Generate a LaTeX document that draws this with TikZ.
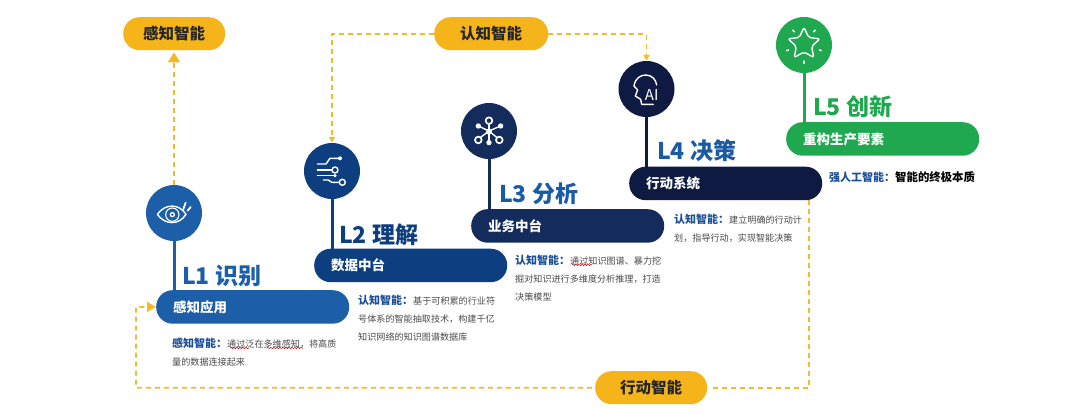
\documentclass[tikz,border=0pt]{standalone}
\usepackage{fontspec}
\setmainfont{Noto Sans CJK SC}
\usetikzlibrary{arrows.meta,decorations.pathmorphing}
\definecolor{cA}{HTML}{1C5EA8}
\definecolor{cB}{HTML}{0D3E80}
\definecolor{cC}{HTML}{142C5C}
\definecolor{cD}{HTML}{0E1A42}
\definecolor{cE}{HTML}{1FA84F}
\definecolor{cY}{HTML}{F4B41A}
\definecolor{cT}{HTML}{1A5BA6}
\definecolor{cH}{HTML}{1C4F96}
\definecolor{cG}{HTML}{4A4A4A}
\tikzset{
  pill/.style={fill=#1,rounded corners=16.5pt,minimum height=33.5pt,minimum width=193pt,text width=159pt,inner xsep=17pt,inner ysep=0pt,align=left,text=white,font=\fontsize{13.5pt}{15pt}\selectfont\bfseries,anchor=north west},
  ypill/.style={fill=cY,rounded corners=16.5pt,minimum height=33pt,inner sep=0pt,text=black!85,font=\fontsize{15.5pt}{18pt}\selectfont\bfseries,anchor=north west},
  disc/.style={circle,fill=#1,minimum size=56pt,inner sep=0pt},
  stem/.style={draw=#1,line width=3pt},
  lvl/.style={text=#1,font=\fontsize{23pt}{26pt}\selectfont\bfseries,anchor=west,inner sep=0pt},
  desc/.style={text=cG,font=\fontsize{9.1pt}{18pt}\selectfont,align=left,anchor=north west,inner sep=0pt},
  dashline/.style={draw=cY!92!white,line width=1.7pt,dash pattern=on 5pt off 4pt},
  ico/.style={draw=white,line width=1.4pt,line cap=round,line join=round},
  squig/.style={draw=red!80!black,line width=0.5pt,decorate,decoration={snake,amplitude=0.6pt,segment length=3pt}}
}
\newcommand{\hl}[1]{{\fontsize{11pt}{18pt}\selectfont\bfseries\color{cH}#1}}
\begin{document}
\begin{tikzpicture}[x=1pt,y=-1pt]
\useasboundingbox (0,0) rectangle (1080,415);
\fill[white] (0,0) rectangle (1080,415);

% pills
\node[pill=cA] (p1) at (156,290) {感知应用};
\node[pill=cB] (p2) at (314,248.5) {数据中台};
\node[pill=cC] (p3) at (471,209) {业务中台};
\node[pill=cD] (p4) at (629,166.5) {行动系统};
\node[pill=cE] (p5) at (786,122) {重构生产要素};

% discs
\node[disc=cA] (c1) at (174,213) {};
\node[disc=cB] (c2) at (332,171) {};
\node[disc=cC] (c3) at (489,131) {};
\node[disc=cD] (c4) at (646.5,89) {};
\node[disc=cE] (c5) at (804,45) {};

% stems
\draw[stem=cA] (c1.south) -- (p1.north -| c1.south);
\draw[stem=cB] (c2.south) -- (p2.north -| c2.south);
\draw[stem=cC] (c3.south) -- (p3.north -| c3.south);
\draw[stem=cD] (c4.south) -- (p4.north -| c4.south);
\draw[stem=cE] (c5.south) -- (p5.north -| c5.south);

% level labels
\node[lvl=cA] (l1) at (182,276) {L1 识别};
\node[lvl=cB] (l2) at (339,235) {L2 理解};
\node[lvl=cT] (l3) at (499,194) {L3 分析};
\node[lvl=cT] (l4) at (657,151) {L4 决策};
\node[lvl=cE] (l5) at (813,107) {L5 创新};

% yellow pills
\node[ypill,minimum width=102pt] (gan) at (123,17) {感知智能};
\node[ypill,minimum width=114pt] (ren) at (434,17) {认知智能};
\node[ypill,minimum width=112pt] (xing) at (595,371) {行动智能};

% dashed connectors
\coordinate (a4) at (809,200);
\coordinate (t1) at (136,307);
\draw[dashline,-{Triangle[length=10pt,width=12pt,fill=cY]},shorten >=2pt] (c1.north) -- (gan.south -| c1.north);
\draw[dashline,-{Triangle[length=6pt,width=6pt,fill=cY]}] (ren.west) -| (c2.north);
\draw[dashline,-{Triangle[length=6pt,width=6pt,fill=cY]}] (ren.east) -| (c4.north);
\draw[dashline,shorten >=3pt] (a4) |- (xing.east);
\draw[dashline,shorten <=3pt,-{Triangle[length=9pt,width=10pt,fill=cY]}] (xing.west) -| (t1) -- (p1.west);

% descriptions
\node[desc] (d1) at (172,337.5) {\hl{感知智能：}通过泛在多维感知，将高质\\量的数据连接起来};
\node[desc] (d2) at (358,295) {\hl{认知智能：}基于可积累的行业符\\号体系的智能抽取技术，构建千亿\\知识网络的知识图谱数据库};
\node[desc] (d3) at (515,254.5) {\hl{认知智能：}通过知识图谱、暴力挖\\掘对知识进行多维度分析推理，打造\\决策模型};
\node[desc] (d4) at (674,214) {\hl{认知智能：}建立明确的行动计\\划，指导行动，实现智能决策};
\node[desc,text=black,font=\fontsize{11.4pt}{18pt}\selectfont\bfseries] (d5) at (829,171) {\hl{强人工智能：}智能的终极本质};

% spell-check squiggles
\draw[squig] (230,348) -- (249,348);
\draw[squig] (267,348) -- (303,348);
\draw[squig] (572,265) -- (592,265);

% eye icon
\begin{scope}[shift={(120,170)},x=0.3333pt,y=-0.3333pt]
\draw[ico] (112,133) .. controls (135,100) and (178,100) .. (198,133) .. controls (178,166) and (135,166) .. (112,133) -- cycle;
\draw[ico,line width=1.1pt] (157,134) circle (20);
\fill[white] (157,134) circle (8);
\fill[cA] (157,134) circle (4);
\draw[ico,line width=1.8pt] (190,118) -- (197,98);
\draw[ico,line width=1.8pt] (203,122) -- (212,111);
\end{scope}

% circuit icon
\begin{scope}[shift={(290,0)},x=0.3333pt,y=-0.3333pt]
\draw[ico] (82,492) -- (108,492) -- (120,475) -- (145,475);
\fill[white] (150,475) circle (6);
\draw[ico] (82,510) -- (125,510);
\draw[ico] (135,510) circle (9);
\draw[ico] (82,526) -- (135,526);
\draw[ico] (100,540) -- (115,540) -- (125,547) -- (148,547);
\draw[ico] (157,547) circle (9);
\fill[white] (135,527) circle (5);
\end{scope}

% network icon
\begin{scope}[shift={(290,0)},x=0.3333pt,y=-0.3333pt]
\draw[ico] (597,393) -- (597,372);
\draw[ico] (597,393) -- (572,412);
\draw[ico] (597,393) -- (620,412);
\draw[ico] (597,393) -- (565,378);
\draw[ico] (597,393) -- (632,378);
\draw[ico] (597,393) -- (597,428);
\draw[ico,line width=1.7pt] (597,362) circle (10);
\draw[ico,line width=1.7pt] (565,420) circle (10);
\draw[ico,line width=1.7pt] (628,420) circle (10);
\fill[white] (565,378) circle (8);
\fill[white] (632,378) circle (8);
\fill[white] (597,428) circle (8);
\fill[white] (597,395) circle (9);
\end{scope}

% head icon
\begin{scope}[shift={(600,10)},x=0.3333pt,y=-0.3333pt]
\draw[ico] (160,283) -- (125,283) -- (122,268) -- (106,258) -- (113,240) -- (102,228) .. controls (105,205) and (122,195) .. (137,195) .. controls (155,195) and (168,208) .. (170,225);
\node[text=white,font=\fontsize{15pt}{16pt}\selectfont,inner sep=0pt] (ai) at (155,255) {AI};
\end{scope}

% star icon
\begin{scope}[shift={(600,10)},x=0.3333pt,y=-0.3333pt]
\draw[ico,rounded corners=2pt] (612,52) -- (626.1,82.6) -- (659.6,86.5) -- (634.8,109.4) -- (641.4,142.5) -- (612,126) -- (582.6,142.5) -- (589.2,109.4) -- (564.4,86.5) -- (597.9,82.6) -- cycle;
\draw[ico] (578,60) -- (584,66);
\draw[ico] (646,60) -- (640,66);
\draw[ico] (560,122) -- (566,120);
\draw[ico] (664,122) -- (658,120);
\draw[ico] (612,153) -- (612,160);
\end{scope}
\end{tikzpicture}
\end{document}
